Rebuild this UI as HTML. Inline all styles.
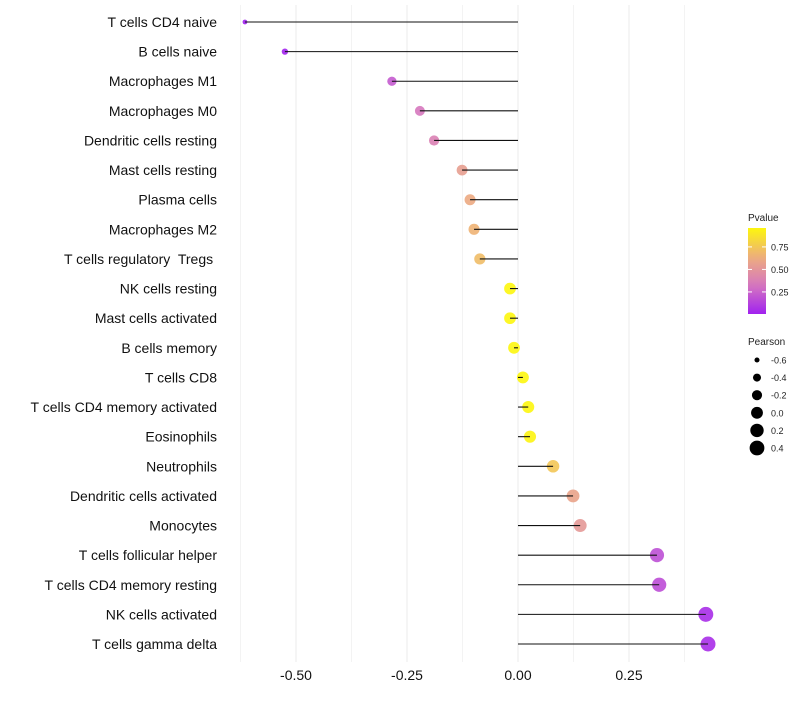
<!DOCTYPE html>
<html><head><meta charset="utf-8"><style>
body{margin:0;background:#fff;font-family:"Liberation Sans",sans-serif;}
svg text{font-family:"Liberation Sans",sans-serif;white-space:pre;}
</style></head><body>
<svg id="chart" width="800" height="700"></svg>
<script>
const categories=["T cells CD4 naive","B cells naive","Macrophages M1","Macrophages M0","Dendritic cells resting","Mast cells resting","Plasma cells","Macrophages M2","T cells regulatory  Tregs ","NK cells resting","Mast cells activated","B cells memory","T cells CD8","T cells CD4 memory activated","Eosinophils","Neutrophils","Dendritic cells activated","Monocytes","T cells follicular helper","T cells CD4 memory resting","NK cells activated","T cells gamma delta"];
const pearson=[-0.615,-0.525,-0.284,-0.221,-0.189,-0.126,-0.108,-0.099,-0.086,-0.018,-0.018,-0.009,0.011,0.023,0.027,0.079,0.124,0.140,0.313,0.318,0.423,0.428];
const pvalue=[0.0,0.01,0.22,0.33,0.38,0.55,0.62,0.66,0.70,0.96,0.96,0.96,0.96,0.96,0.95,0.75,0.58,0.52,0.18,0.17,0.05,0.05];
const xTicks=[-0.5,-0.25,0,0.25];
const xTickLabels=["-0.50","-0.25","0.00","0.25"];
const sizeLegend=[-0.6,-0.4,-0.2,0.0,0.2,0.4];
const sizeLegendLabels=["-0.6","-0.4","-0.2","0.0","0.2","0.4"];
const colorTicks=[0.25,0.5,0.75];
const colorTickLabels=["0.25","0.50","0.75"];

const NS="http://www.w3.org/2000/svg";
const svg=document.getElementById('chart');
function el(t,a,p){const e=document.createElementNS(NS,t);for(const k in a)e.setAttribute(k,a[k]);(p||svg).appendChild(e);return e;}
const x=v=>518+v*444;
const y=i=>22+i*(622/21);
const rad=v=>Math.sqrt(Math.max(4,5+48*(v+0.63)));
function lerp(a,b,t){return a.map((c,i)=>Math.round(c+(b[i]-c)*t));}
function col(p){const s=[[160,32,240],[214,120,190],[236,170,130],[255,255,0]];const st=[0,0.33,0.62,1];
 p=Math.max(0,Math.min(1,p));for(let i=0;i<3;i++){if(p<=st[i+1]){const c=lerp(s[i],s[i+1],(p-st[i])/(st[i+1]-st[i]));return `rgb(${c})`;}}return 'rgb(255,255,0)';}

for(let g=-0.625;g<=0.4;g+=0.125){const l=el('line',{x1:x(g),x2:x(g),y1:5,y2:662,stroke:'#ebebeb','stroke-width':Math.abs((g*4)%1)<1e-6?1:0.6});
}
xTicks.forEach((t,i)=>{const tx=el('text',{x:x(t),y:680,'text-anchor':'middle','font-size':14,fill:'#111'});tx.textContent=xTickLabels[i];
});
categories.forEach((c,i)=>{
 const lb=el('text',{x:217,y:y(i)+5,'text-anchor':'end','font-size':14,fill:'#111'});lb.textContent=c;
 
 const dot=el('circle',{cx:x(pearson[i]),cy:y(i),r:rad(pearson[i]),fill:col(pvalue[i]),'fill-opacity':0.9});
 
 const ln=el('line',{x1:x(0),x2:x(pearson[i]),y1:y(i),y2:y(i),stroke:'#111','stroke-width':1.1});
 
});
const lt=el('text',{x:748,y:221,'font-size':10,fill:'#222'});lt.textContent='Pvalue';

const defs=el('defs',{});const gr=el('linearGradient',{id:'pg',x1:0,y1:1,x2:0,y2:0},defs);
for(let k=0;k<=10;k++){el('stop',{offset:k/10,'stop-color':col(0.005+k/10*0.955)},gr);}
const bar=el('rect',{x:748,y:228,width:18,height:86,fill:'url(#pg)'});

const cy=p=>314-(p-0.005)/0.955*86;
colorTicks.forEach((t,i)=>{el('line',{x1:748,x2:752,y1:cy(t),y2:cy(t),stroke:'#fff'});el('line',{x1:762,x2:766,y1:cy(t),y2:cy(t),stroke:'#fff'});
 const tx=el('text',{x:771,y:cy(t)+3.5,'font-size':9,fill:'#222'});tx.textContent=colorTickLabels[i];
 });
const st=el('text',{x:748,y:345,'font-size':10,fill:'#222'});st.textContent='Pearson';

sizeLegend.forEach((v,i)=>{const yy=360+i*17.6;
 const c=el('circle',{cx:757,cy:yy,r:rad(v),fill:'#000'});
 const tx=el('text',{x:771,y:yy+3.5,'font-size':9,fill:'#222'});tx.textContent=sizeLegendLabels[i];
 });
</script>
</body></html>
